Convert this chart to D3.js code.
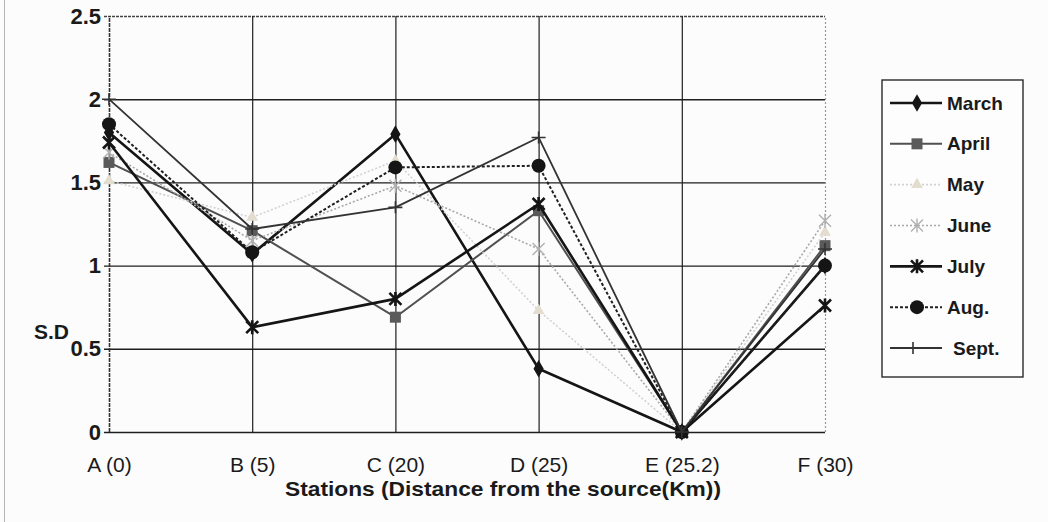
<!DOCTYPE html>
<html>
<head>
<meta charset="utf-8">
<script src="https://cdn.jsdelivr.net/npm/d3@7"></script>
<style>
  html, body { margin: 0; padding: 0; background: #fcfcfc; }
  svg { display: block; font-family: "Liberation Sans", Arial, sans-serif; }
</style>
</head>
<body>
<svg id="chart" width="1048" height="522"></svg>
<script>
// Stations along the river and monthly S.D values
const stations = ["A (0)", "B (5)", "C (20)", "D (25)", "E (25.2)", "F (30)"];
const march = [1.80, 1.07, 1.79, 0.38, 0, 1.00];
const april = [1.62, 1.21, 0.69, 1.33, 0, 1.12];
const may   = [1.51, 1.29, 1.63, 0.73, 0, 1.20];
const june  = [1.68, 1.15, 1.48, 1.10, 0, 1.27];
const july  = [1.74, 0.63, 0.80, 1.37, 0, 0.76];
const aug   = [1.85, 1.08, 1.59, 1.60, 0, 1.00];
const sept  = [2.00, 1.22, 1.35, 1.77, 0, 1.10];
const yTicks = [0, 0.5, 1, 1.5, 2, 2.5];
const yTickLabels = ["0", "0.5", "1", "1.5", "2", "2.5"];

const series = [
  { name: "March", values: march, color: "#151515", width: 2.6, dash: null,  marker: "diamond", mcolor: "#151515" },
  { name: "April", values: april, color: "#505050", width: 2.0, dash: null,  marker: "square",  mcolor: "#5a5a5a" },
  { name: "May",   values: may,   color: "#d2d2d2", width: 1.6, dash: "2,2", marker: "triangle", mcolor: "#e2ddcf" },
  { name: "June",  values: june,  color: "#a8a8a8", width: 1.6, dash: "2,2", marker: "asterisk", mcolor: "#b0b0b0" },
  { name: "July",  values: july,  color: "#151515", width: 2.6, dash: null,  marker: "star",    mcolor: "#151515" },
  { name: "Aug.",  values: aug,   color: "#202020", width: 2.0, dash: "3,2", marker: "circle",  mcolor: "#151515" },
  { name: "Sept.", values: sept,  color: "#333333", width: 1.8, dash: null,  marker: "plus",    mcolor: "#333333" }
];

const svg = d3.select("#chart");
const plot = { left: 109, right: 825, top: 16, bottom: 432 };

const x = d3.scalePoint().domain(stations).range([plot.left, plot.right]);
const y = d3.scaleLinear().domain([0, 2.5]).range([plot.bottom, plot.top]);

// faint page frame
svg.append("line").attr("x1", 4.5).attr("x2", 4.5).attr("y1", 0).attr("y2", 522)
  .attr("stroke", "#b5b5b5").attr("stroke-width", 1);

// horizontal gridlines with tick stubs
const yAxis = d3.axisLeft(y).tickValues(yTicks).tickSize(-(plot.right - plot.left))
  .tickFormat((d, i) => yTickLabels[i]).tickPadding(8);
const gy = svg.append("g").attr("transform", `translate(${plot.left},0)`).call(yAxis);
gy.select(".domain").remove();
gy.selectAll(".tick line").attr("stroke", "#1e1e1e").attr("stroke-width", 1.4).attr("x1", -5);
gy.selectAll(".tick text").attr("fill", "#1a1a1a").attr("font-size", 22).attr("font-weight", "bold");
gy.selectAll(".tick").filter(d => d === 2.5).select("line")
  .attr("stroke", "#444").attr("stroke-dasharray", "3,1");

// vertical gridlines at each station
const xAxis = d3.axisBottom(x).tickSize(-(plot.bottom - plot.top)).tickPadding(25);
const gx = svg.append("g").attr("transform", `translate(0,${plot.bottom})`).call(xAxis);
gx.select(".domain").remove();
gx.selectAll(".tick line").attr("stroke", "#1e1e1e").attr("stroke-width", 1.2);
gx.selectAll(".tick").filter(d => d === stations[stations.length - 1]).select("line")
  .attr("stroke", "#999").attr("stroke-dasharray", "2,2");
gx.selectAll(".tick").filter(d => d === stations[0]).select("line")
  .attr("stroke", "#333").attr("stroke-width", 1.6).attr("stroke-dasharray", "4,1");
gx.selectAll(".tick text").attr("fill", "#1a1a1a").attr("font-size", 21)
  .attr("dy", "0.71em");

// axis titles
svg.append("text").attr("x", 503).attr("y", 496).attr("text-anchor", "middle")
  .attr("font-size", 21).attr("font-weight", "bold").attr("fill", "#1a1a1a")
  .attr("textLength", 436).attr("lengthAdjust", "spacingAndGlyphs")
  .text("Stations (Distance from the source(Km))");
svg.append("text").attr("x", 34).attr("y", 339)
  .attr("font-size", 21).attr("font-weight", "bold").attr("fill", "#1a1a1a")
  .text("S.D");

// marker shapes
function drawMarker(g, type, cx, cy, color) {
  const s = g.append("g").attr("transform", `translate(${cx},${cy})`);
  switch (type) {
    case "diamond":
      s.append("path").attr("d", d3.symbol(d3.symbolDiamond, 90)()).attr("fill", color);
      break;
    case "square":
      s.append("rect").attr("x", -5.5).attr("y", -5.5).attr("width", 11).attr("height", 11).attr("fill", color);
      break;
    case "triangle":
      s.append("path").attr("d", d3.symbol(d3.symbolTriangle, 60)()).attr("fill", color);
      break;
    case "asterisk":
      s.append("path").attr("d", "M-6,-6L6,6M-6,6L6,-6M0,-7L0,7").attr("stroke", color).attr("stroke-width", 1.4);
      break;
    case "star":
      s.append("path").attr("d", "M-6,-6L6,6M-6,6L6,-6M0,-7L0,7").attr("stroke", color).attr("stroke-width", 2.6);
      break;
    case "circle":
      s.append("circle").attr("r", 7).attr("fill", color);
      break;
    case "plus":
      s.append("path").attr("d", "M-7,0L7,0M0,-6L0,6").attr("stroke", color).attr("stroke-width", 1.6);
      break;
  }
}

const line = d3.line().x((d, i) => x(stations[i])).y(d => y(d));

const gLines = svg.append("g");
series.forEach(s => {
  const g = gLines.append("g");
  g.append("path").datum(s.values).attr("d", line)
    .attr("fill", "none").attr("stroke", s.color).attr("stroke-width", s.width)
    .attr("stroke-dasharray", s.dash).attr("stroke-linejoin", "round");
  s.values.forEach((v, i) => drawMarker(g, s.marker, x(stations[i]), y(v), s.mcolor));
});

// legend
const legend = svg.append("g");
legend.append("rect").attr("x", 882).attr("y", 80).attr("width", 141).attr("height", 297)
  .attr("fill", "#fdfdfd").attr("stroke", "#2a2a2a").attr("stroke-width", 1.4);
const legY = d3.scalePoint().domain(series.map(s => s.name)).range([103, 348]);
series.forEach(s => {
  const cy = legY(s.name);
  const g = legend.append("g");
  g.append("line").attr("x1", 890).attr("x2", 942).attr("y1", cy).attr("y2", cy)
    .attr("stroke", s.color).attr("stroke-width", s.width).attr("stroke-dasharray", s.dash);
  drawMarker(g, s.marker, s.name === "Sept." ? 913 : 917, cy, s.mcolor);
  g.append("text").attr("x", s.name === "Sept." ? 953 : 947).attr("y", cy).attr("dy", "0.35em")
    .attr("font-size", 19).attr("font-weight", "bold").attr("fill", "#1a1a1a").text(s.name);
});
</script>
</body>
</html>
